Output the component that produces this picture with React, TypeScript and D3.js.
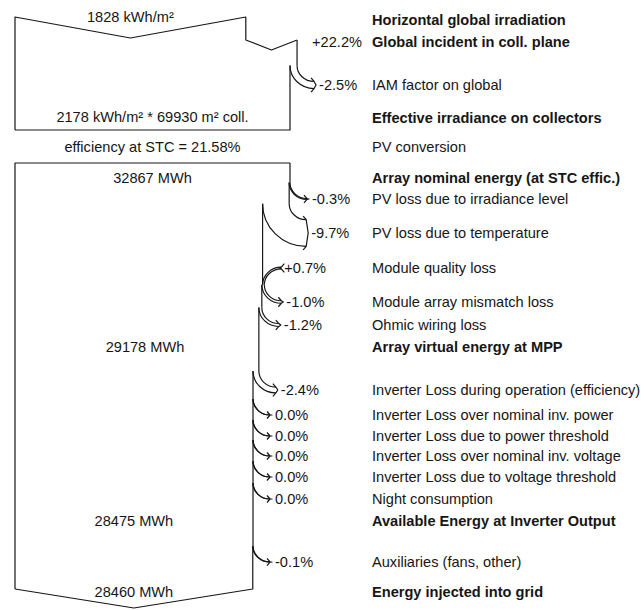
import React from "react";
import * as d3 from "d3";

// Loss diagram rows (right column), top to bottom
const rowText = [
  "Horizontal global irradiation",
  "Global incident in coll. plane",
  "IAM factor on global",
  "Effective irradiance on collectors",
  "PV conversion",
  "Array nominal energy (at STC effic.)",
  "PV loss due to irradiance level",
  "PV loss due to temperature",
  "Module quality loss",
  "Module array mismatch loss",
  "Ohmic wiring loss",
  "Array virtual energy at MPP",
  "Inverter Loss during operation (efficiency)",
  "Inverter Loss over nominal inv. power",
  "Inverter Loss due to power threshold",
  "Inverter Loss over nominal inv. voltage",
  "Inverter Loss due to voltage threshold",
  "Night consumption",
  "Available Energy at Inverter Output",
  "Auxiliaries (fans, other)",
  "Energy injected into grid",
];
const rowBold = [
  true, true, false, true, false, true, false, false, false, false, false,
  true, false, false, false, false, false, false, true, false, true,
];
// percent change per row (null = level / no arrow)
const rowPct: (number | null)[] = [
  null, 22.2, -2.5, null, null, null, -0.3, -9.7, 0.7, -1.0, -1.2,
  null, -2.4, 0.0, 0.0, 0.0, 0.0, 0.0, null, -0.1, null,
];

const irradiation = [1828, 2178]; // kWh/m², horizontal and effective
const collectorArea = 69930; // m²
const stcEfficiency = 21.58; // %
const energies = [32867, 29178, 28475, 28460]; // MWh

// layout
const W = 644;
const H = 610;
const LEFT = 15;
const FLOW_W = 275;
const TEXT_X = 372;
const RX = 17;
const RY = 16;
const TOP_Y = 17;
const TOP_BOTTOM = 130;
const BOX2_TOP = 163;
const BOTTOM_Y = 589;
const V_DEPTH = 20;
const rowY = [
  20, 42, 85, 118, 147, 178, 199, 233, 268, 302, 325, 347, 390, 415, 436,
  456, 477, 499, 521, 562, 592,
];
const FONT = "'Liberation Sans', Arial, Helvetica, sans-serif";
const FS = 14.6;
const INK = "#161616";

const irrX = d3.scaleLinear().domain([0, irradiation[1]]).range([LEFT, LEFT + FLOW_W]);
const enX = d3.scaleLinear().domain([0, energies[0]]).range([LEFT, LEFT + FLOW_W]);

const pctText = (p: number) => (p > 0 ? "+" : "") + p.toFixed(1) + "%";

interface Arrow {
  bands: string[];
  head: string;
  lx: number;
  ly: number;
  text: string;
}

function runSteps(
  rows: number[],
  v0: number,
  scale: d3.ScaleLinear<number, number>,
  y0Start: number
) {
  let v = v0;
  let R = scale(v0);
  let yStart = y0Start;
  const edges: string[] = [];
  const arrows: Arrow[] = [];
  rows.forEach((i) => {
    const p = rowPct[i];
    if (p == null) return;
    const v1 = v * (1 + p / 100);
    const R1 = scale(v1);
    const yc = rowY[i];
    if (p <= 0) {
      const w = R - R1;
      const y0 = yc - w / 2 - RY;
      const xe = R + RX;
      const y1 = y0 + RY;
      const y2 = y1 + w;
      edges.push(`M${R},${yStart}L${R},${y0}`);
      arrows.push({
        bands: [
          `M${R},${y0}A${RX},${RY} 0 0 0 ${xe},${y1}`,
          `M${R - w},${y0}A${RX + w},${RY + w} 0 0 0 ${xe},${y2}`,
        ],
        head: `M${xe - 3},${y1 - 3.5}L${xe},${y1}L${xe + 2},${yc}L${xe},${y2}L${xe - 3},${y2 + 3.5}`,
        lx: xe + 5,
        ly: yc,
        text: pctText(p),
      });
      yStart = y0;
    } else {
      const w = R1 - R;
      const y0 = yc + w / 2 + RY;
      const xs = R + w + RX;
      const y1 = yc - w / 2;
      const y2 = yc + w / 2;
      edges.push(`M${R},${yStart}L${R},${y0}`);
      arrows.push({
        bands: [
          `M${xs},${y1}A${RX + w},${RY + w} 0 0 0 ${R},${y0}`,
          `M${xs},${y2}A${RX},${RY} 0 0 0 ${R + w},${y0}`,
        ],
        head: `M${xs + 3},${y1 - 3.5}L${xs},${y1}L${xs - 2},${yc}L${xs},${y2}L${xs + 3},${y2 + 3.5}`,
        lx: xs + 3,
        ly: yc,
        text: pctText(p),
      });
      yStart = y0;
    }
    R = R1;
    v = v1;
  });
  return { edges, arrows, R, yStart };
}

export default function App() {
  // --- irradiance section
  const rH = irrX(irradiation[0]);
  const gain = rowPct[1] as number;
  const vInc = irradiation[0] * (1 + gain / 100);
  const rInc = irrX(vInc);
  const cy = rowY[1] - 2;
  const topEdge =
    `M${LEFT},${TOP_BOTTOM}L${LEFT},${TOP_Y}L${(LEFT + rH) / 2},${TOP_Y + V_DEPTH + 1}L${rH},${TOP_Y}` +
    `L${rH},${cy}L${(rH + rInc) / 2},${cy + 10}L${rInc},${cy}`;
  const s1 = runSteps([2], vInc, irrX, cy);
  const s1Close = `M${s1.R},${s1.yStart}L${s1.R},${TOP_BOTTOM}L${LEFT},${TOP_BOTTOM}`;

  // --- energy section
  const r0 = enX(energies[0]);
  const box2Open = `M${LEFT},${BOTTOM_Y}L${LEFT},${BOX2_TOP}L${r0},${BOX2_TOP}`;
  const s2 = runSteps(d3.range(6, 20), energies[0], enX, BOX2_TOP);
  const s2Close =
    `M${s2.R},${s2.yStart}L${s2.R},${BOTTOM_Y}` +
    `L${(LEFT + s2.R) / 2},${BOTTOM_Y + V_DEPTH - 1}L${LEFT},${BOTTOM_Y}`;

  const edges = [topEdge, ...s1.edges, s1Close, box2Open, ...s2.edges, s2Close];
  const arrows = [...s1.arrows, ...s2.arrows];

  const levelLabels = [
    { text: `${irradiation[0]} kWh/m²`, x: (LEFT + rH) / 2, y: TOP_Y },
    {
      text: `${irradiation[1]} kWh/m² * ${collectorArea} m² coll.`,
      x: (LEFT + r0) / 2,
      y: rowY[3] - 1,
    },
    { text: `efficiency at STC = ${stcEfficiency.toFixed(2)}%`, x: (LEFT + r0) / 2, y: rowY[4] },
    { text: `${energies[0]} MWh`, x: (LEFT + r0) / 2, y: rowY[5] },
    { text: `${energies[1]} MWh`, x: 145, y: rowY[11] },
    { text: `${energies[2]} MWh`, x: (LEFT + s2.R) / 2, y: rowY[18] },
    { text: `${energies[3]} MWh`, x: (LEFT + s2.R) / 2, y: rowY[20] },
  ];

  return (
    <svg
      width={W}
      height={H}
      viewBox={`0 0 ${W} ${H}`}
      style={{ position: "absolute", left: 0, top: 0, background: "#fff" }}
      fontFamily={FONT}
      fontSize={FS}
    >
      <rect width={W} height={H} fill="#fff" />
      <g fill="none" stroke={INK} strokeWidth={1.2} strokeLinejoin="round">
        {edges.map((d, i) => (
          <path key={"e" + i} d={d} />
        ))}
        {arrows.map((a, i) => (
          <g key={"a" + i}>
            {a.bands.map((d, j) => (
              <path key={j} d={d} />
            ))}
            <path d={a.head} />
          </g>
        ))}
      </g>

      {/* percent labels */}
      <text x={362} y={rowY[1]} dy="0.35em" textAnchor="end" fill={INK}>
        {pctText(gain)}
      </text>
      {arrows.map((a, i) => (
        <text key={"p" + i} x={a.lx} y={a.ly} dy="0.35em" fill={INK}>
          {a.text}
        </text>
      ))}

      {/* level values inside the flow */}
      {levelLabels.map((l, i) => (
        <text key={"l" + i} x={l.x} y={l.y} dy="0.35em" textAnchor="middle" fill={INK}>
          {l.text}
        </text>
      ))}

      {/* row descriptions */}
      {rowText.map((t, i) => (
        <text
          key={"r" + i}
          x={TEXT_X}
          y={rowY[i]}
          dy="0.35em"
          fontWeight={rowBold[i] ? "bold" : "normal"}
          fill={INK}
        >
          {t}
        </text>
      ))}
    </svg>
  );
}
